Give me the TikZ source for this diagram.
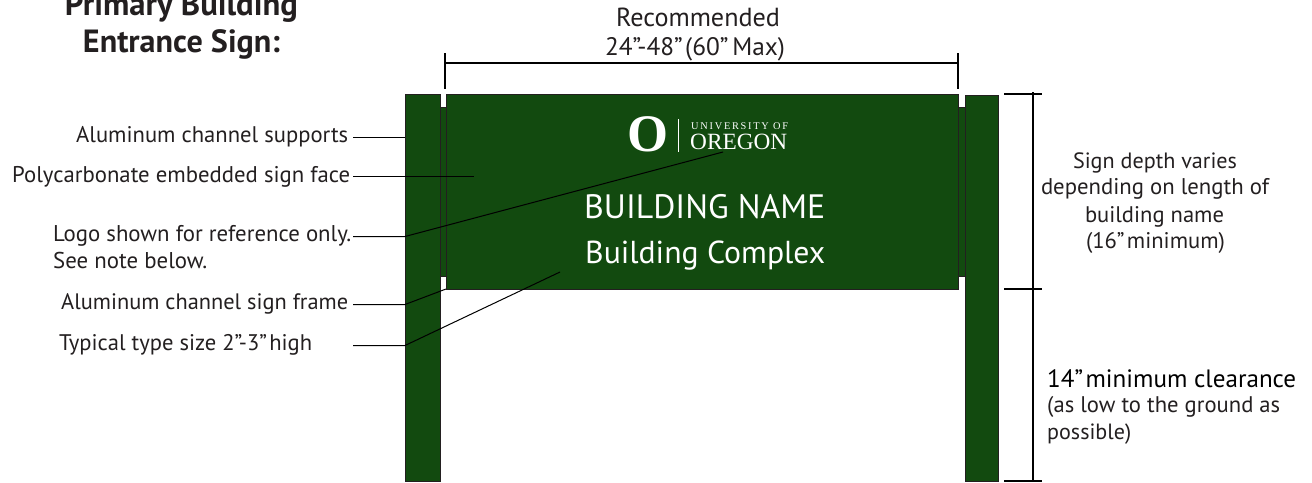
\documentclass[tikz,border=0pt]{standalone}
\usepackage{fontspec}
\usepackage{graphicx}
\setmainfont{PT Sans}
\newfontfamily\logofont{Liberation Serif}
\newfontfamily\logospaced[LetterSpace=17]{Liberation Serif}
\definecolor{signgreen}{HTML}{124A0F}
\definecolor{ink}{HTML}{231F20}
\newcommand{\fitw}[2]{\resizebox{#1pt}{!}{#2}}
\tikzset{
  part/.style={draw=ink,line width=0.8pt,fill=signgreen},
  label/.style={inner sep=0pt,text=ink,font=\fontsize{22}{26}\selectfont},
  leader/.style={draw=black,line width=1pt},
  dim/.style={draw=black,line width=1.5pt},
  signtext/.style={inner sep=0pt,text=white,font=\fontsize{33}{40}\selectfont},
  titletext/.style={inner sep=0pt,anchor=base,text=ink,font=\bfseries\fontsize{30}{30}\selectfont},
}
\begin{document}
\begin{tikzpicture}[x=1pt,y=-1pt]
\useasboundingbox (0,0) rectangle (1312,482);
\clip (0,0) rectangle (1312,482);
% sign parts
\draw[part] (440,107) rectangle (446,276);
\draw[part] (958.5,107) rectangle (965,276);
\draw[part] (405,94.5) rectangle (440,481);
\draw[part] (965,95) rectangle (998.5,481);
\draw[part] (446,94.5) rectangle (958.5,289);
% logo
\node[inner sep=0pt,anchor=base,text=white,font=\logofont\bfseries\fontsize{51}{51}\selectfont] (logoO) at (647.5,151.5) {\resizebox{41pt}{!}{O}};
\draw[white,line width=0.7pt] (678.5,119) -- (678.5,152);
\node[inner sep=0pt,anchor=base west,text=white,font=\logospaced\fontsize{10.5}{10}\selectfont] (logoU) at (691,129) {\fitw{97}{UNIVERSITY OF}};
\node[inner sep=0pt,anchor=base west,text=white,font=\logofont\fontsize{24}{25}\selectfont] (logoN) at (690,149) {\fitw{97}{OREGON}};
% sign text
\node[signtext,anchor=base west] (bname) at (584,218) {\fitw{241}{BUILDING NAME}};
\node[signtext,anchor=base west] (bcomplex) at (585,263) {\fitw{240}{Building Complex}};
% title
\node[titletext] (t1) at (181.5,15) {\fitw{233}{Primary Building}};
\node[titletext] (t2) at (181.5,52) {\fitw{197}{Entrance Sign:}};
% top dimension
\node[label,anchor=base] (rec1) at (698,26) {\fitw{164}{Recommended}};
\node[label,anchor=base] (rec2) at (695,55) {\fitw{180}{24"-48"\kern0.1em(60"\kern0.15em Max)}};
\coordinate (dl) at (445,63);
\coordinate (dr) at (958,63);
\draw[dim] (dl) -- (dr);
\draw[dim] (445,53) -- (445,89);
\draw[dim] (958,53) -- (958,89);
% right dimension
\coordinate (vt) at (1033,92);
\coordinate (vb) at (1033,481);
\draw[dim] (vt) -- (vb);
\draw[dim] (1004,94) -- (1042,94);
\draw[dim] (1004,289) -- (1042,289);
\draw[dim] (1004,481) -- (1042,481);
% right labels
\node[label,anchor=base] (d1) at (1155,168) {\fitw{164}{Sign depth varies}};
\node[label,anchor=base] (d2) at (1155,194) {\fitw{228}{depending on length of}};
\node[label,anchor=base] (d3) at (1154.5,222) {\fitw{139}{building name}};
\node[label,anchor=base] (d4) at (1155.5,248) {\fitw{139}{(16"\kern0.1em minimum)}};
\node[inner sep=0pt,anchor=base west,text=black,font=\fontsize{23}{26}\selectfont] (c1) at (1047,387) {\fitw{249}{14"\kern0.1em minimum clearance}};
\node[label,anchor=base west] (c2) at (1047,412) {\fitw{233}{(as low to the ground as}};
\node[label,anchor=base west] (c3) at (1047,439) {\fitw{84}{possible)}};
% left labels
\node[label,anchor=base west] (l1) at (76,142) {\fitw{272}{Aluminum channel supports}};
\node[label,anchor=base west] (l2) at (12,182) {\fitw{338}{Polycarbonate embedded sign face}};
\node[label,anchor=base west] (l3) at (53,241) {\fitw{298}{Logo shown for reference only.}};
\node[label,anchor=base west] (l3b) at (53,268) {\fitw{154}{See note below.}};
\node[label,anchor=base west] (l4) at (61,309) {\fitw{287}{Aluminum channel sign frame}};
\node[label,anchor=base west] (l5) at (59,350) {\fitw{253}{Typical type size 2"-3"\kern0.1em high}};
% leaders
\coordinate (a1) at (353,137.5); \coordinate (b1) at (405,137.5);
\coordinate (a2) at (353,176.5); \coordinate (b2) at (474,176.5);
\coordinate (a3) at (353,236.5); \coordinate (k3) at (405,236.5); \coordinate (b3) at (723,152);
\coordinate (a4) at (353,304.5); \coordinate (k4) at (405,304.5); \coordinate (b4) at (446,289);
\coordinate (a5) at (353,345.5); \coordinate (k5) at (405,345.5); \coordinate (b5) at (560,272);
\draw[leader] (a1) -- (b1);
\draw[leader] (a2) -- (b2);
\draw[leader] (a3) -- (k3) -- (b3);
\draw[leader] (a4) -- (k4) -- (b4);
\draw[leader] (a5) -- (k5) -- (b5);
\end{tikzpicture}
\end{document}
